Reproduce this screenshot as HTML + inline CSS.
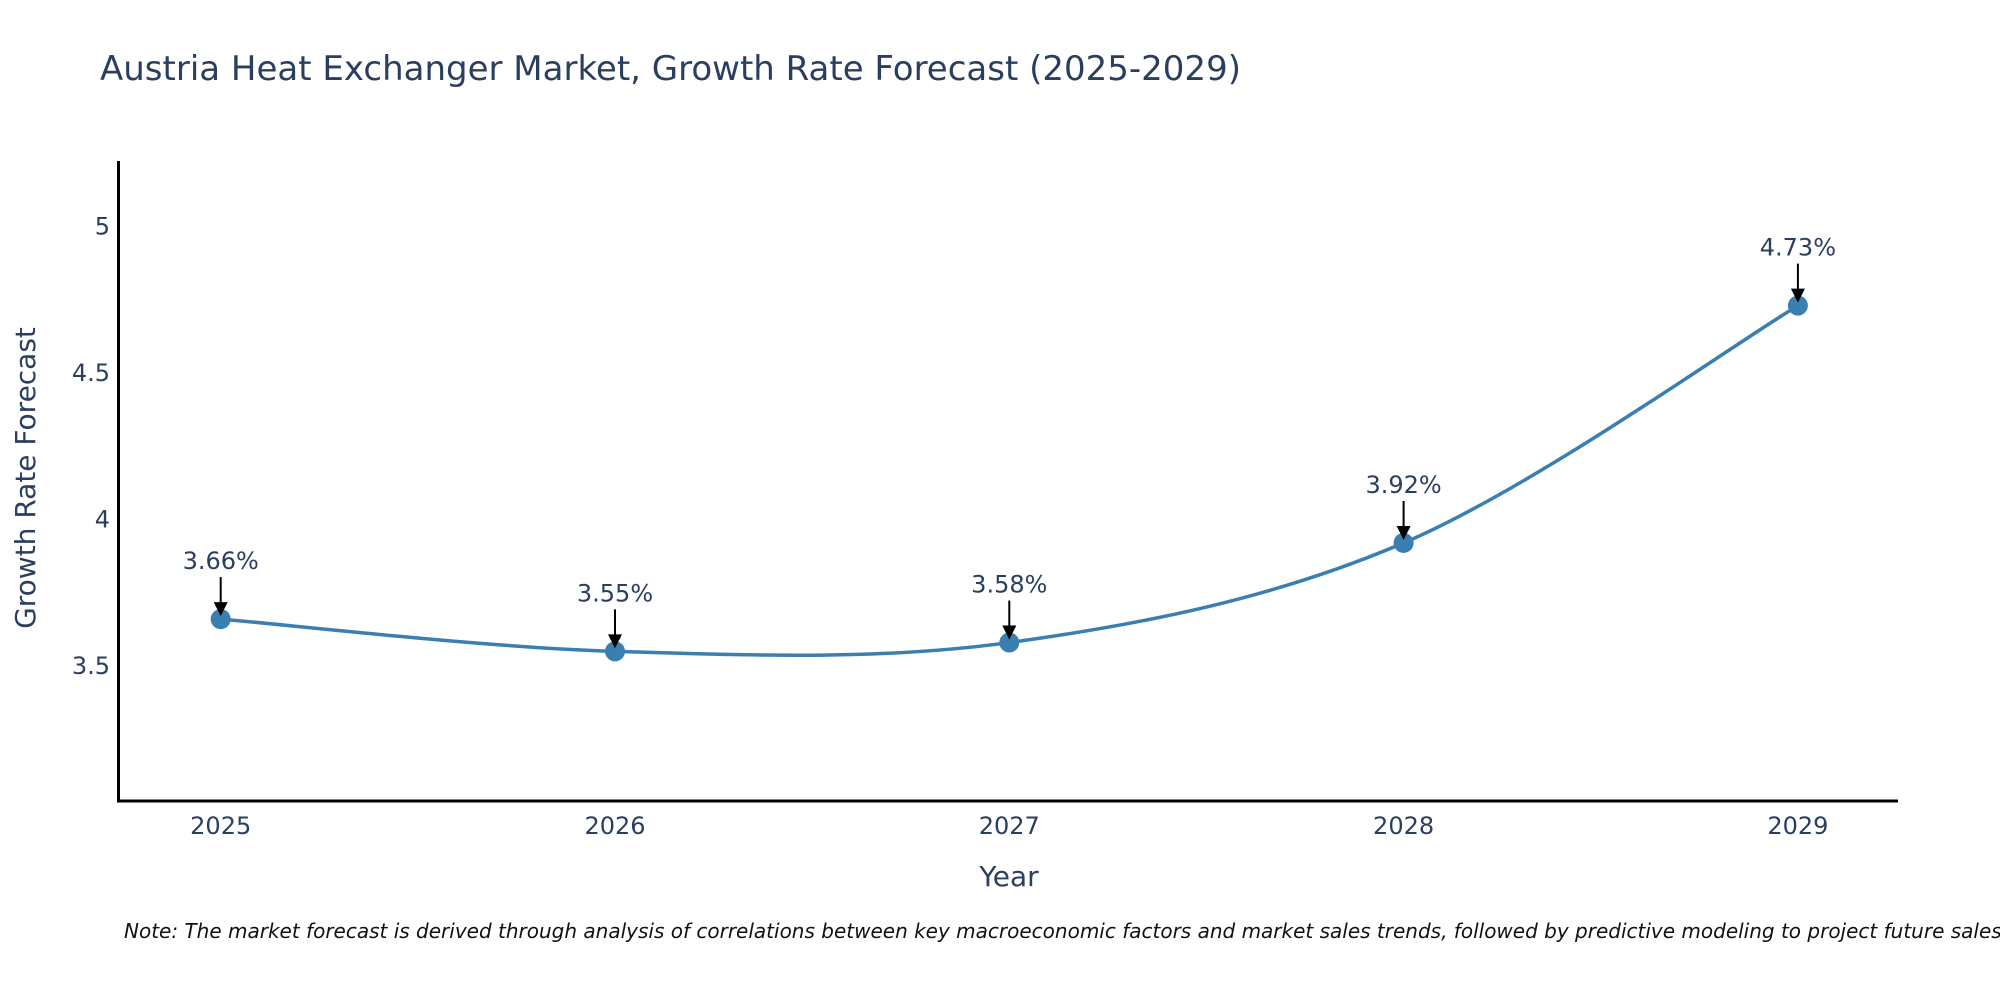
<!DOCTYPE html>
<html><head><meta charset="utf-8"><style>
html,body{margin:0;padding:0;background:#fff;overflow:hidden;}
svg{display:block;}
</style></head><body>
<svg id="chart" width="2000" height="1000" viewBox="0 0 2000 1000" xmlns="http://www.w3.org/2000/svg">
<text x="100" y="80" font-family="DejaVu Sans, sans-serif" font-size="34" fill="#2a3f5f">Austria Heat Exchanger Market, Growth Rate Forecast (2025-2029)</text>
<g id="axes"></g>
<g id="series"></g>
<g id="labels"></g>
<text x="124" y="938" font-family="DejaVu Sans, sans-serif" font-style="italic" font-size="20" fill="#111">Note: The market forecast is derived through analysis of correlations between key macroeconomic factors and market sales trends, followed by predictive modeling to project future sales.</text>
</svg>
<script>
const categories = ['2025','2026','2027','2028','2029'];
const values = [3.66, 3.55, 3.58, 3.92, 4.73];
const valueLabels = ['3.66%','3.55%','3.58%','3.92%','4.73%'];
const yTicks = [3.5, 4, 4.5, 5];
const yTickLabels = ['3.5','4','4.5','5'];

const NS='http://www.w3.org/2000/svg';
const X0=220.7, XSTEP=394.3;
const FONT='DejaVu Sans, sans-serif';
function xScale(i){return X0+i*XSTEP;}
function yScale(v){return 666-(v-3.5)*293;}
function mk(tag,attrs,parent){const e=document.createElementNS(NS,tag);for(const k in attrs)e.setAttribute(k,attrs[k]);parent.appendChild(e);return e;}

const axes=document.getElementById('axes');
const yl=mk('line',{x1:118.5,y1:161,x2:118.5,y2:802,stroke:'#000','stroke-width':3},axes);


const xl=mk('line',{x1:117,y1:801,x2:1898,y2:801,stroke:'#000','stroke-width':3},axes);


yTicks.forEach((t,i)=>{
  const tx=mk('text',{x:110,y:yScale(t)+8,'text-anchor':'end','font-family':FONT,'font-size':24,fill:'#2a3f5f'},axes);
  tx.textContent=yTickLabels[i];
  
  
});
categories.forEach((c,i)=>{
  const tx=mk('text',{x:xScale(i),y:834,'text-anchor':'middle','font-family':FONT,'font-size':24,fill:'#2a3f5f'},axes);
  tx.textContent=c;
  
  
});
const xt=mk('text',{x:1009,y:886,'text-anchor':'middle','font-family':FONT,'font-size':28,fill:'#2a3f5f'},axes);
xt.textContent='Year';


const yt=mk('text',{x:0,y:0,transform:'translate(35,478) rotate(-90)','text-anchor':'middle','font-family':FONT,'font-size':28,fill:'#2a3f5f'},axes);
yt.textContent='Growth Rate Forecast';



const pts=values.map((v,i)=>[xScale(i),yScale(v)]);
let d='M'+pts[0][0]+','+pts[0][1];
const tension=0.5;
for(let i=0;i<pts.length-1;i++){
  const p0=pts[Math.max(0,i-1)],p1=pts[i],p2=pts[i+1],p3=pts[Math.min(pts.length-1,i+2)];
  const c1=[p1[0]+(p2[0]-p0[0])*tension/3,p1[1]+(p2[1]-p0[1])*tension/3];
  const c2=[p2[0]-(p3[0]-p1[0])*tension/3,p2[1]-(p3[1]-p1[1])*tension/3];
  d+=' C'+c1[0]+','+c1[1]+' '+c2[0]+','+c2[1]+' '+p2[0]+','+p2[1];
}
const series=document.getElementById('series');
const line=mk('path',{d:d,fill:'none',stroke:'#3a7fb0','stroke-width':3.5},series);


pts.forEach((p,i)=>{
  const c=mk('circle',{cx:p[0],cy:p[1],r:10,fill:'#3a7fb0'},series);
  
  
});
const labels=document.getElementById('labels');
pts.forEach((p,i)=>{
  const ln=mk('line',{x1:p[0],y1:p[1]-42,x2:p[0],y2:p[1]-14,stroke:'#000','stroke-width':2},labels);
  
  
  const hd=mk('polygon',{points:(p[0]-7)+','+(p[1]-17)+' '+(p[0]+7)+','+(p[1]-17)+' '+p[0]+','+(p[1]-3),fill:'#000'},labels);
  
  
  const tx=mk('text',{x:p[0],y:p[1]-50,'text-anchor':'middle','font-family':FONT,'font-size':24,fill:'#2a3f5f'},labels);
  tx.textContent=valueLabels[i];
  
  
});
</script>
</body></html>
